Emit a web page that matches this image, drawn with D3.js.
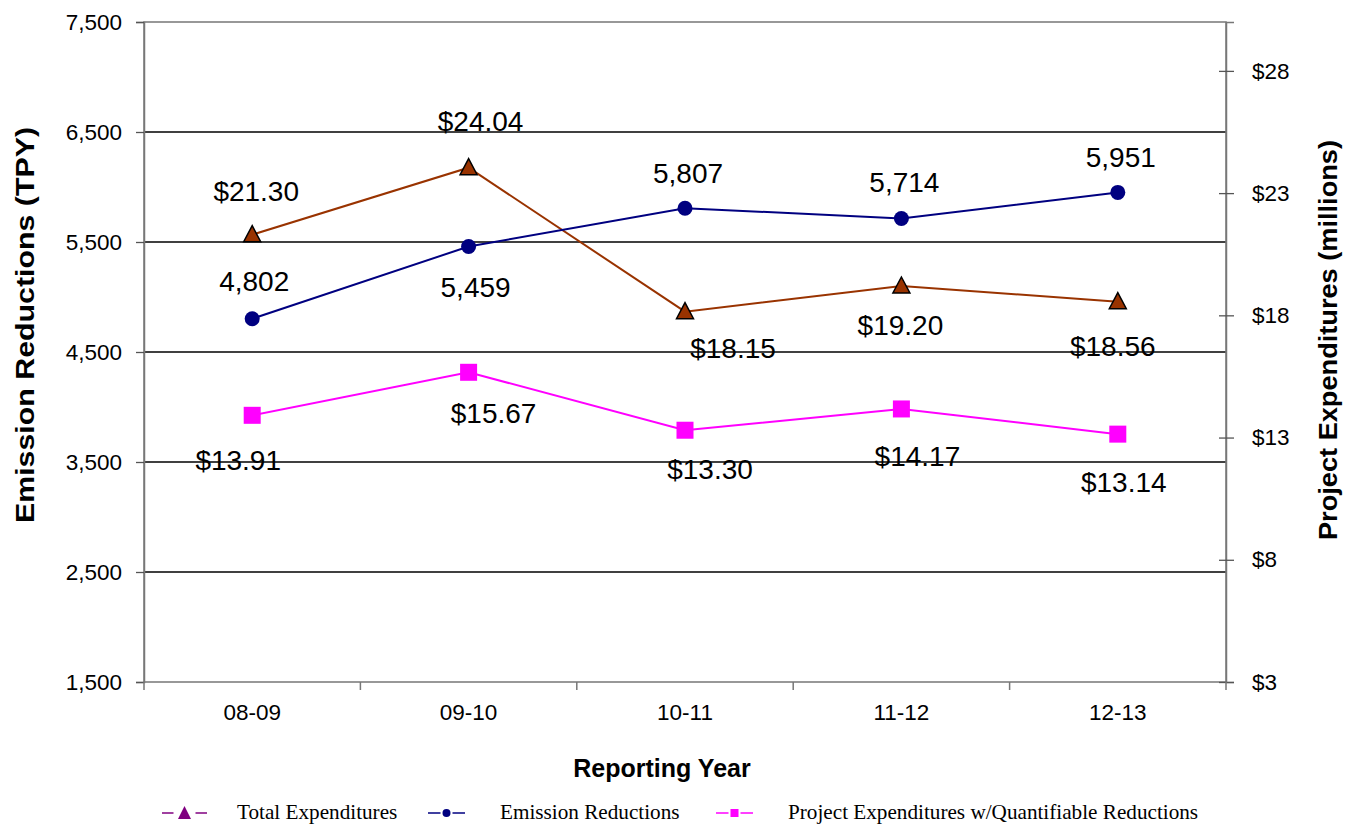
<!DOCTYPE html>
<html>
<head>
<meta charset="utf-8">
<script src="https://cdn.jsdelivr.net/npm/d3@7"></script>
<style>
	html, body { margin: 0; padding: 0; background: #fff; }
	svg { display: block; }
	text { font-family: "Liberation Sans", Arial, sans-serif; fill: #000; }
</style>
</head>
<body>
<div id="chart"></div>
<script>
'use strict';

var categories = ['08-09', '09-10', '10-11', '11-12', '12-13'];
var totalExpenditures = [21.30, 24.04, 18.15, 19.20, 18.56];
var emissionReductions = [4802, 5459, 5807, 5714, 5951];
var projectExpenditures = [13.91, 15.67, 13.30, 14.17, 13.14];

var leftTicks = [1500, 2500, 3500, 4500, 5500, 6500, 7500];
var rightTicks = [3, 8, 13, 18, 23, 28];

// label nudges (dx, dy from the point)
var totalLabelPos = [[4, -44], [12, -47], [48, 36], [-1, 39], [-5, 44]];
var emissionLabelPos = [[2, -38], [7, 40], [3, -35], [3, -36], [3, -35]];
var projectLabelPos = [[-14, 45], [25, 41], [25, 39], [16, 47], [6, 48]];

var width = 1356;
var height = 824;
var margin = {top: 22, right: 130, bottom: 142, left: 144};

var svg = d3.select('#chart').append('svg')
	.attr('width', width)
	.attr('height', height);

var x = d3.scaleBand()
	.domain(categories)
	.range([margin.left, width - margin.right]);

var yLeft = d3.scaleLinear()
	.domain([1500, 7500])
	.range([height - margin.bottom, margin.top]);

var yRight = d3.scaleLinear()
	.domain([3, 30])
	.range([height - margin.bottom, margin.top]);

var cx = function(i){ return x(categories[i]) + x.bandwidth() / 2; };
var plotL = margin.left, plotR = width - margin.right;
var plotT = margin.top, plotB = height - margin.bottom;

// grid lines
svg.append('g').selectAll('line')
	.data(leftTicks.slice(1, -1))
	.enter().append('line')
		.attr('x1', plotL).attr('x2', plotR)
		.attr('y1', function(d){ return yLeft(d); })
		.attr('y2', function(d){ return yLeft(d); })
		.attr('stroke', '#000')
		.attr('stroke-width', 1.3);

// frame
svg.append('path')
	.attr('d', 'M' + plotL + ',' + plotB + 'V' + plotT + 'H' + plotR + 'V' + plotB + 'Z')
	.attr('fill', 'none')
	.attr('stroke', '#777')
	.attr('stroke-width', 1.5);

// left axis
var leftAxis = svg.append('g')
	.attr('transform', 'translate(' + plotL + ',0)')
	.call(d3.axisLeft(yLeft).tickValues(leftTicks).tickFormat(d3.format(',')).tickSize(8).tickPadding(14));

// right axis
var rightAxis = svg.append('g')
	.attr('transform', 'translate(' + plotR + ',0)')
	.call(d3.axisRight(yRight).tickValues(rightTicks).tickFormat(function(d){ return '$' + d; }).tickSize(8).tickPadding(18));
rightAxis.selectAll('.tick line').attr('x1', -7);

// bottom axis
var bottomAxis = svg.append('g')
	.attr('transform', 'translate(0,' + plotB + ')')
	.call(d3.axisBottom(x).tickSize(0).tickPadding(22));

svg.append('g').selectAll('line')
	.data(d3.range(categories.length + 1))
	.enter().append('line')
		.attr('x1', function(i){ return plotL + i * x.bandwidth(); })
		.attr('x2', function(i){ return plotL + i * x.bandwidth(); })
		.attr('y1', plotB).attr('y2', plotB + 8)
		.attr('stroke', '#777')
		.attr('stroke-width', 1.5);

[leftAxis, rightAxis, bottomAxis].forEach(function(a){
	a.select('.domain').attr('stroke', '#777').attr('stroke-width', 1.5);
	a.selectAll('.tick line').attr('stroke', '#555').attr('stroke-width', 1.3);
	a.selectAll('text')
		.style('font-family', '"Liberation Sans", Arial, sans-serif')
		.style('font-size', '22.5px')
		.attr('fill', '#111');
});
bottomAxis.select('.domain').remove();

// axis titles
svg.append('text')
	.attr('transform', 'translate(34,' + 325 + ') rotate(-90)')
	.attr('text-anchor', 'middle')
	.attr('textLength', 396)
	.attr('lengthAdjust', 'spacingAndGlyphs')
	.style('font-size', '25px')
	.style('font-weight', 'bold')
	.text('Emission Reductions (TPY)');

svg.append('text')
	.attr('transform', 'translate(1337,' + 340 + ') rotate(-90)')
	.attr('text-anchor', 'middle')
	.attr('textLength', 400)
	.attr('lengthAdjust', 'spacingAndGlyphs')
	.style('font-size', '25px')
	.style('font-weight', 'bold')
	.text('Project Expenditures (millions)');

svg.append('text')
	.attr('x', 662).attr('y', 777)
	.attr('text-anchor', 'middle')
	.style('font-size', '25px')
	.style('font-weight', 'bold')
	.text('Reporting Year');

var triPath = 'M0,-9L8.5,7L-8.5,7Z';

function drawSeries(values, scale, color, labelPos, fmt, marker){
	var line = d3.line()
		.x(function(d, i){ return cx(i); })
		.y(function(d){ return scale(d); });

	svg.append('path')
		.datum(values)
		.attr('d', line)
		.attr('fill', 'none')
		.attr('stroke', color)
		.attr('stroke-width', 2);

	var g = svg.append('g');
	values.forEach(function(v, i){
		var px = cx(i), py = scale(v);
		if (marker === 'tri') {
			g.append('path')
				.attr('d', triPath)
				.attr('transform', 'translate(' + px + ',' + py + ')')
				.attr('fill', color)
				.attr('stroke', '#000')
				.attr('stroke-width', 1.5);
		} else if (marker === 'circle') {
			g.append('circle')
				.attr('cx', px).attr('cy', py).attr('r', 7.5)
				.attr('fill', color);
		} else {
			g.append('rect')
				.attr('x', px - 8.5).attr('y', py - 8.5)
				.attr('width', 17).attr('height', 17)
				.attr('fill', color);
		}
		g.append('text')
			.attr('x', px + labelPos[i][0])
			.attr('y', py + labelPos[i][1] + 10)
			.attr('text-anchor', 'middle')
			.style('font-size', '28px')
			.text(fmt(v));
	});
}

var dollar = function(v){ return '$' + d3.format('.2f')(v); };

drawSeries(projectExpenditures, yRight, '#ff00ff', projectLabelPos, dollar, 'square');
drawSeries(totalExpenditures, yRight, '#993300', totalLabelPos, dollar, 'tri');
drawSeries(emissionReductions, yLeft, '#000080', emissionLabelPos, d3.format(','), 'circle');

// legend
var legendItems = [
	{name: 'Total Expenditures', color: '#800080', marker: 'tri', x0: 162, x1: 207, tx: 237},
	{name: 'Emission Reductions', color: '#000080', marker: 'circle', x0: 428, x1: 465, tx: 500},
	{name: 'Project Expenditures w/Quantifiable Reductions', color: '#ff00ff', marker: 'square', x0: 716, x1: 753, tx: 788}
];
var ly = 813;
var legend = svg.append('g');
legendItems.forEach(function(item){
	var mid = (item.x0 + item.x1) / 2;
	var gap = item.marker === 'tri' ? 11 : 6;
	legend.append('line')
		.attr('x1', item.x0).attr('x2', mid - gap)
		.attr('y1', ly).attr('y2', ly)
		.attr('stroke', item.color).attr('stroke-width', 1.5);
	legend.append('line')
		.attr('x1', mid + gap).attr('x2', item.x1)
		.attr('y1', ly).attr('y2', ly)
		.attr('stroke', item.color).attr('stroke-width', 1.5);
	if (item.marker === 'tri') {
		legend.append('path')
			.attr('d', 'M0,-7L6.5,6L-6.5,6Z')
			.attr('transform', 'translate(' + mid + ',' + ly + ')')
			.attr('fill', item.color);
	} else if (item.marker === 'circle') {
		legend.append('circle')
			.attr('cx', mid).attr('cy', ly).attr('r', 4)
			.attr('fill', item.color);
	} else {
		legend.append('rect')
			.attr('x', mid - 4).attr('y', ly - 4)
			.attr('width', 8).attr('height', 8)
			.attr('fill', item.color);
	}
	legend.append('text')
		.attr('x', item.tx).attr('y', 819)
		.style('font-family', '"Liberation Serif", "Times New Roman", serif')
		.style('font-size', '21.2px')
		.text(item.name);
});
</script>
</body>
</html>
